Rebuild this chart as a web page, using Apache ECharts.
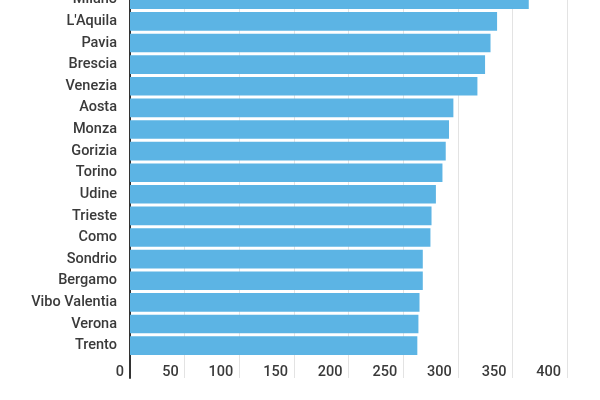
<html><head><meta charset='utf-8'>
<script src='https://cdn.jsdelivr.net/npm/echarts@6/dist/echarts.min.js'></script>
<style>html,body{margin:0;padding:0;background:#fff;overflow:hidden}
#chart{position:absolute;left:0;top:-11px;width:600px;height:411px}</style>
</head><body><div id='chart'></div><script>
// città e valori (dall'alto verso il basso)
var cities = ['Milano', "L'Aquila", 'Pavia', 'Brescia', 'Venezia', 'Aosta', 'Monza', 'Gorizia', 'Torino',
  'Udine', 'Trieste', 'Como', 'Sondrio', 'Bergamo', 'Vibo Valentia', 'Verona', 'Trento'];
var values = [365, 336, 330, 325, 318, 296, 292, 289, 286, 280, 276, 275, 268, 268, 265, 264, 263];
var xTicks = [0, 50, 100, 150, 200, 250, 300, 350, 400];

// riga vuota in fondo: ospita le etichette dell'asse x
var cats = cities.concat(['']);
var data = values.concat([null]);

var chart = echarts.init(document.getElementById('chart'));
chart.setOption({
  animation: false,
  textStyle: {fontFamily: 'Roboto'},
  grid: {left: 130, right: 33, top: 0, bottom: 22, containLabel: false},
  xAxis: {
    type: 'value',
    min: xTicks[0], max: xTicks[xTicks.length - 1], interval: 50,
    axisLine: {show: false}, axisTick: {show: false},
    splitLine: {lineStyle: {color: '#e3e3e3', width: 1}},
    axisLabel: {
      margin: -13, align: 'right', padding: [0, 6, 0, 0],
      color: '#3a3a3a', fontSize: 14.5, fontWeight: 500, fontFamily: 'Roboto'
    }
  },
  yAxis: {
    type: 'category', data: cats, inverse: true,
    axisLine: {show: true, lineStyle: {color: '#333', width: 2}},
    axisTick: {show: false},
    axisLabel: {margin: 13, color: '#3a3a3a', fontSize: 14.5, fontWeight: 500, fontFamily: 'Roboto'}
  },
  series: [{
    type: 'bar', data: data,
    barCategoryGap: '14%',
    itemStyle: {color: '#5cb4e4'}
  }]
});
</script></body></html>
